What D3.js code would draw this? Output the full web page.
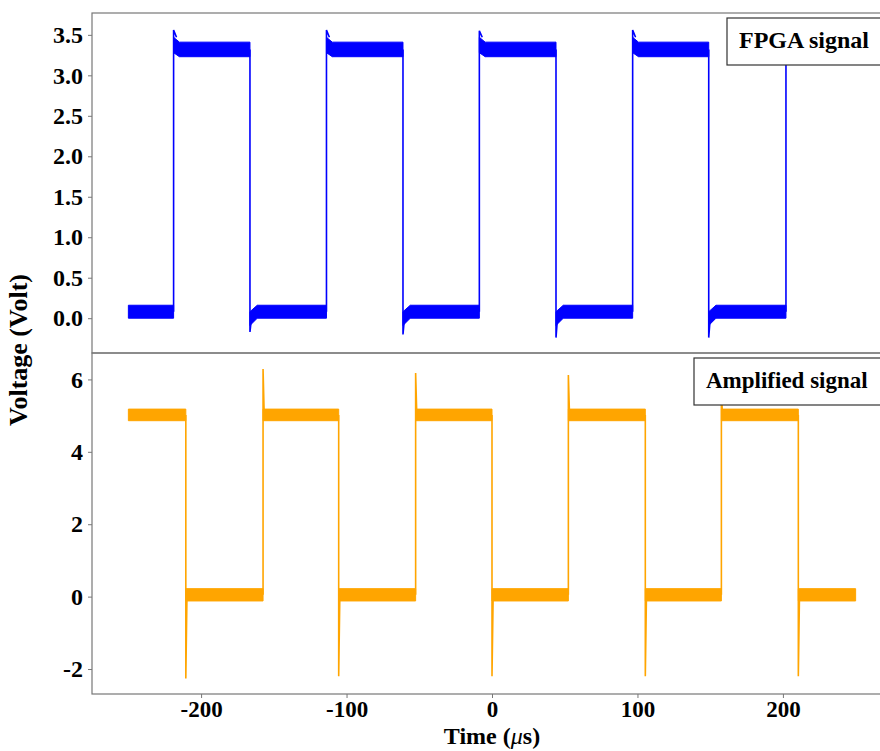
<!DOCTYPE html>
<html>
<head>
<meta charset="utf-8">
<script src="https://cdn.jsdelivr.net/npm/d3@7"></script>
<style>
  body { margin: 0; background: #fff; }
  svg text { font-family: "Liberation Serif", "Times New Roman", serif; font-weight: bold; }
</style>
</head>
<body>
<div id="chart"></div>
<script>
// time axis (µs)
const timeTicks = [-200, -100, 0, 100, 200];
const timeDomain = [-275, 275];

// FPGA signal (top panel)
const fpgaTicks = [0, 0.5, 1.0, 1.5, 2.0, 2.5, 3.0, 3.5];
const fpgaSpan = [-250, 202.1];
const fpgaRise = [-218.9, -113.8, -8.7, 96.7, 202.1];
const fpgaFall = [-166.4, -61.2, 44.0, 149.0];
const fpgaOvershoot = [3.56, 3.56, 3.55, 3.56, 3.3];
const fpgaUndershoot = [-0.17, -0.2, -0.24, -0.24];
const fpgaLowBand = [0.0, 0.16];
const fpgaLowBandAfterFall = [-0.09, 0.08];
const fpgaHighBand = [3.23, 3.41];
const fpgaHighBandAfterRise = [3.28, 3.47];

// Amplified signal (bottom panel)
const ampTicks = [-2, 0, 2, 4, 6];
const ampSpan = [-250, 250];
const ampFall = [-210.5, -105.4, 0.0, 105.4, 210.6];
const ampRise = [-157.4, -52.5, 52.5, 157.7];
const ampSpikeDown = [-2.26, -2.2, -2.2, -2.2, -2.2];
const ampSpikeUp = [6.29, 6.18, 6.12, 5.6];
const ampHighBand = [4.86, 5.18];
const ampLowBand = [-0.12, 0.22];

const width = 880, height = 751;
const left = 92, right = 892;
const panels = [
  { top: 13, bottom: 353, domain: [-0.43, 3.77] },
  { top: 353, bottom: 694, domain: [-2.69, 6.73] }
];

const svg = d3.select("#chart").append("svg")
  .attr("width", width)
  .attr("height", height);

const x = d3.scaleLinear().domain(timeDomain).range([left, right]);
const yTop = d3.scaleLinear().domain(panels[0].domain).range([panels[0].bottom, panels[0].top]);
const yBot = d3.scaleLinear().domain(panels[1].domain).range([panels[1].bottom, panels[1].top]);

// build segments {t0, t1, high} from edge times
function buildSegments(span, ups, downs, startHigh) {
  const edges = ups.map(t => ({ t, up: true })).concat(downs.map(t => ({ t, up: false })))
    .sort((a, b) => a.t - b.t);
  const segs = [];
  let t0 = span[0], high = startHigh;
  edges.forEach(e => {
    if (e.t > t0) segs.push({ t0, t1: Math.min(e.t, span[1]), high });
    t0 = e.t; high = e.up;
  });
  if (t0 < span[1]) segs.push({ t0, t1: span[1], high });
  return segs;
}

function drawSignal(g, y, segs, bandFor, edgeLines, color) {
  const area = d3.area()
    .x(d => x(d[0]))
    .y0(d => y(d[1]))
    .y1(d => y(d[2]));
  g.selectAll("path.band")
    .data(segs.map(bandFor))
    .enter().append("path")
    .attr("class", "band")
    .attr("d", area)
    .attr("fill", color)
    .attr("stroke", color)
    .attr("stroke-width", 1);
  const line = d3.line().x(d => x(d[0])).y(d => y(d[1]));
  g.selectAll("path.edge")
    .data(edgeLines)
    .enter().append("path")
    .attr("class", "edge")
    .attr("d", line)
    .attr("fill", "none")
    .attr("stroke", color)
    .attr("stroke-width", 1.6);
}

const defs = svg.append("defs");
panels.forEach((p, i) => {
  defs.append("clipPath").attr("id", "clip" + i)
    .append("rect")
    .attr("x", left).attr("y", p.top)
    .attr("width", right - left).attr("height", p.bottom - p.top);
});

// top panel: FPGA
const fpgaSegs = buildSegments(fpgaSpan, fpgaRise, fpgaFall, false);
const fpgaG = svg.append("g").attr("clip-path", "url(#clip0)");
drawSignal(fpgaG, yTop, fpgaSegs, s => {
  if (s.high) {
    return [[s.t0, fpgaHighBandAfterRise[0], fpgaHighBandAfterRise[1]],
            [s.t0 + 4, fpgaHighBand[0], fpgaHighBand[1]],
            [s.t1, fpgaHighBand[0], fpgaHighBand[1]]];
  }
  if (s.t0 === fpgaSpan[0]) {
    return [[s.t0, fpgaLowBand[0], fpgaLowBand[1]], [s.t1, fpgaLowBand[0], fpgaLowBand[1]]];
  }
  return [[s.t0, fpgaLowBandAfterFall[0], fpgaLowBandAfterFall[1]],
          [s.t0 + 5, fpgaLowBand[0], fpgaLowBand[1]],
          [s.t1, fpgaLowBand[0], fpgaLowBand[1]]];
}, fpgaRise.map((t, i) => [[t, d3.mean(fpgaLowBand)], [t, fpgaOvershoot[i]], [t + 2, fpgaHighBandAfterRise[1]]])
  .concat(fpgaFall.map((t, i) => [[t, d3.mean(fpgaHighBand)], [t, fpgaUndershoot[i]], [t + 1, d3.mean(fpgaLowBandAfterFall)]])),
  "#0000ff");

// bottom panel: amplified
const ampSegs = buildSegments(ampSpan, ampRise, ampFall, true);
const ampG = svg.append("g").attr("clip-path", "url(#clip1)");
drawSignal(ampG, yBot, ampSegs, s => {
  const b = s.high ? ampHighBand : ampLowBand;
  return [[s.t0, b[0], b[1]], [s.t1, b[0], b[1]]];
}, ampRise.map((t, i) => [[t, d3.mean(ampLowBand)], [t, ampSpikeUp[i]], [t + 0.8, d3.mean(ampHighBand)]])
  .concat(ampFall.map((t, i) => [[t, d3.mean(ampHighBand)], [t, ampSpikeDown[i]], [t + 0.8, d3.mean(ampLowBand)]])),
  "#ffa500");

// frames
panels.forEach(p => {
  svg.append("rect")
    .attr("x", left).attr("y", p.top)
    .attr("width", right - left).attr("height", p.bottom - p.top)
    .attr("fill", "none")
    .attr("stroke", "#777")
    .attr("stroke-width", 1.2);
});

// axes
function styleAxis(size) {
  return g => {
    g.select(".domain").remove();
    g.selectAll(".tick line").attr("stroke", "#777");
    g.selectAll(".tick text")
      .attr("fill", "#000")
      .style("font-size", size + "px");
  };
}

svg.append("g")
  .attr("transform", `translate(${left},0)`)
  .call(d3.axisLeft(yTop).tickValues(fpgaTicks).tickSize(4).tickPadding(5).tickFormat(d => d.toFixed(1)))
  .call(styleAxis(24));

svg.append("g")
  .attr("transform", `translate(${left},0)`)
  .call(d3.axisLeft(yBot).tickValues(ampTicks).tickSize(4).tickPadding(5).tickFormat(d => String(d)))
  .call(styleAxis(24));

svg.append("g")
  .attr("transform", `translate(0,${panels[1].bottom})`)
  .call(d3.axisBottom(x).tickValues(timeTicks).tickSize(4).tickPadding(3).tickFormat(d => String(d)))
  .call(styleAxis(23));

// axis labels
const xLabel = svg.append("text")
  .attr("x", 492)
  .attr("y", 744)
  .attr("text-anchor", "middle")
  .style("font-size", "24px")
  .attr("fill", "#000");
xLabel.append("tspan").text("Time (");
xLabel.append("tspan").style("font-style", "italic").style("font-weight", "normal").text("μ");
xLabel.append("tspan").text("s)");

svg.append("text")
  .attr("transform", `translate(27,350) rotate(-90)`)
  .attr("text-anchor", "middle")
  .style("font-size", "26px")
  .attr("fill", "#000")
  .text("Voltage (Volt)");

// legends
const legends = [
  { label: "FPGA signal", x: 727, y: 18, size: 24 },
  { label: "Amplified signal", x: 694, y: 358, size: 23 }
];
legends.forEach(l => {
  svg.append("rect")
    .attr("x", l.x).attr("y", l.y)
    .attr("width", 200).attr("height", 47)
    .attr("fill", "#fff")
    .attr("stroke", "#333")
    .attr("stroke-width", 1.2);
  svg.append("text")
    .attr("x", l.x + 12)
    .attr("y", l.y + 30)
    .style("font-size", l.size + "px")
    .attr("fill", "#000")
    .text(l.label);
});
</script>
</body>
</html>
